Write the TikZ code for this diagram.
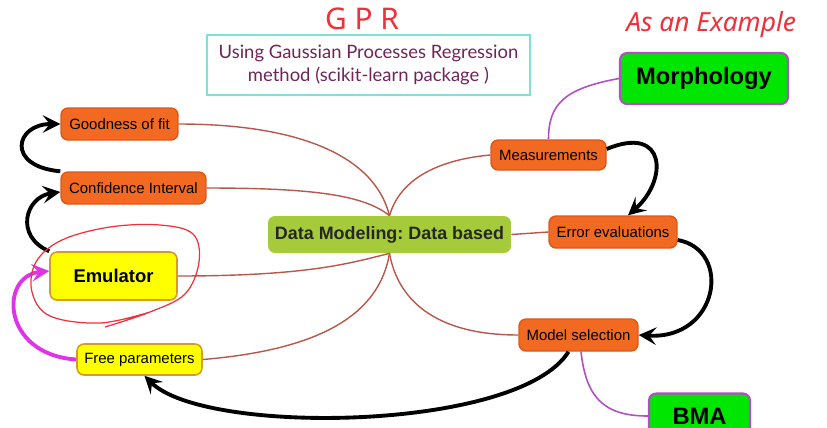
\documentclass[tikz,border=0pt]{standalone}
\usepackage{fontspec}
\setmainfont{Liberation Sans}
\newfontfamily\gprfont{Lato}
\newfontfamily\handfont{Noto Sans}
\usetikzlibrary{arrows.meta,positioning}
\definecolor{leaffill}{HTML}{F26A21}
\definecolor{leafline}{HTML}{D9581A}
\definecolor{emufill}{HTML}{FFFF00}
\definecolor{emuline}{HTML}{D49A2A}
\definecolor{hubfill}{HTML}{A6CB3A}
\definecolor{greenfill}{HTML}{00E600}
\definecolor{purpline}{HTML}{B24FC4}
\definecolor{linkred}{HTML}{B8574C}
\definecolor{magentaarrow}{HTML}{E032E6}
\definecolor{gprline}{HTML}{7EE2D6}
\definecolor{gprtext}{HTML}{6E2557}
\definecolor{handred}{HTML}{F0303A}
\frenchspacing

\begin{document}
\begin{tikzpicture}[x=0.02cm,y=-0.02cm,
  leaf/.style={draw=leafline,fill=leaffill,rounded corners=4pt,line width=0.8pt,
    font=\fontsize{8.5}{10}\selectfont,inner sep=0pt},
  yellowbox/.style={draw=emuline,fill=emufill,rounded corners=4pt,line width=0.9pt,inner sep=0pt},
  greenbox/.style={draw=purpline,fill=greenfill,rounded corners=4pt,line width=1.2pt,
    font=\fontsize{13.5}{15}\selectfont\bfseries,inner sep=0pt},
  link/.style={linkred,line width=0.8pt},
  purplink/.style={purpline,line width=0.9pt},
  loop/.style={black,line width=2.2pt,-{Stealth[length=10pt,width=10pt,inset=4pt]}},
]
\useasboundingbox (0,0) rectangle (827,427);

% left side
\node[leaf,minimum width=2.34cm,minimum height=0.64cm] (good) at (119.5,124) {Goodness of fit};
\node[leaf,minimum width=2.9cm,minimum height=0.64cm] (conf) at (133.5,188) {Confidence Interval};
\node[yellowbox,minimum width=2.54cm,minimum height=0.96cm,
  font=\fontsize{10.5}{12}\selectfont\bfseries] (emu) at (113.5,276) {Emulator};
\node[yellowbox,minimum width=2.5cm,minimum height=0.62cm,
  font=\fontsize{8.5}{10}\selectfont] (free) at (139.5,359.5) {Free parameters};

% hub
\node[fill=hubfill,rounded corners=4pt,minimum width=4.86cm,minimum height=0.74cm,inner sep=0pt,
  font=\fontsize{10.2}{12}\selectfont\bfseries,text=black!85] (hub) at (389.5,234.5) {Data Modeling: Data based};

% right side
\node[leaf,minimum width=2.3cm,minimum height=0.6cm] (meas) at (548.5,155) {Measurements};
\node[leaf,minimum width=2.56cm,minimum height=0.64cm] (err) at (613,232) {Error evaluations};
\node[leaf,minimum width=2.38cm,minimum height=0.64cm] (model) at (578.5,335) {Model selection};
\node[greenbox,minimum width=3.36cm,minimum height=1.02cm] (morph) at (704,78.5) {Morphology};
\node[greenbox,minimum width=2.02cm,minimum height=0.9cm] (bma) at (699.5,416) {BMA};

% GPR note
\node[draw=gprline,line width=1.6pt,minimum width=6.46cm,minimum height=1.2cm,align=center,
  text=gprtext,font=\gprfont\fontsize{10.5}{13}\selectfont] (gpr) at (368.5,65)
  {Using Gaussian Processes Regression\\method (scikit-learn package )};
\node[text=handred,font=\handfont\fontsize{17}{18}\selectfont] (gprtag) at (362,19) {G P R};
\node[text=handred,font=\handfont\itshape\fontsize{15}{17}\selectfont,anchor=west,inner sep=0pt] (example) at (626,25) {As an Example};

% links to the hub
\draw[link] (good.east) .. controls +(120,0) and +(-15,-60) .. (hub.north);
\draw[link] (conf.east) .. controls +(110,0) and +(-25,-20) .. (hub.north);
\draw[link] (meas.west) .. controls +(-55,5) and +(10,-35) .. (hub.north);
\draw[link] (emu.east) .. controls +(130,0) and +(-40,10) .. (hub.south);
\draw[link] (free.east) .. controls +(120,-10) and +(-10,60) .. (hub.south);
\draw[link] (model.west) .. controls +(-85,0) and +(8,45) .. (hub.south);
\draw[link] (err.west) -- (hub.east);
\draw[purplink] (morph.west) .. controls +(-55,10) and +(0,-35) .. (meas.north);
\draw[purplink] ([xshift=0.05cm]model.south) .. controls +(5,45) and +(-45,0) .. (bma.west);

% hand drawn arrows
\draw[loop] (conf.north west) .. controls +(-55,-5) and +(-45,0) .. (good.west);
\draw[loop] (emu.north west) .. controls +(-35,-15) and +(-35,5) .. ([yshift=-0.08cm]conf.west);
\draw[loop] ([yshift=0.12cm]meas.east) .. controls +(60,-25) and +(40,-35) .. ([xshift=0.3cm]err.north);
\draw[loop] ([yshift=-0.16cm]err.east) .. controls +(55,10) and +(80,5) .. (model.east);
\draw[loop] ([xshift=-0.2cm]model.south) .. controls +(-50,80) and +(60,60) .. ([xshift=0.1cm]free.south);
\draw[magentaarrow,line width=2.2pt,-{Stealth[length=10pt,width=10pt,inset=4pt]}]
  (free.west) .. controls +(-75,-5) and +(-50,5) .. ([yshift=0.1cm]emu.west);

% red circle round the emulator
\draw[handred,line width=0.7pt] plot[smooth,tension=0.6] coordinates
  {(105,327) (150,312) (185,294) (199,262) (193,234) (160,225) (110,227) (62,240)
   (36,262) (32,292) (50,316) (100,323) (150,312)};
\end{tikzpicture}
\end{document}
